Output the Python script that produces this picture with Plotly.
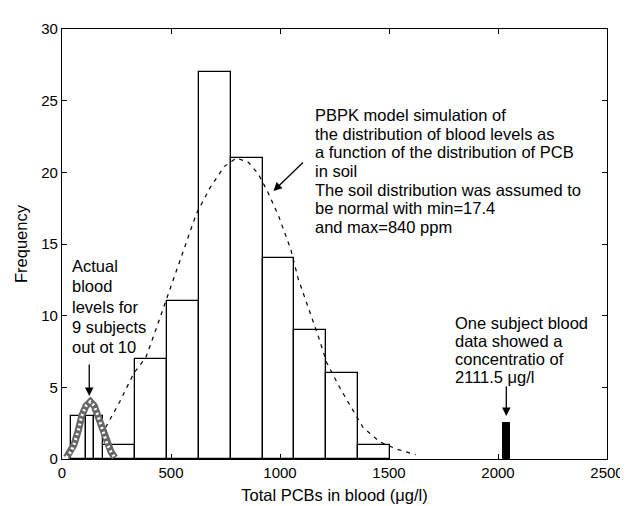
import plotly.graph_objects as go

# ---- data ----
# simulated (PBPK) histogram: bin edges and counts
sim_edges = [190, 336, 482, 628, 774, 920, 1066, 1212, 1358, 1504]
sim_counts = [1, 7, 11, 27, 21, 14, 9, 6, 1]

# actual blood data histogram (9 of 10 subjects)
act_edges = [41, 111, 146, 190]
act_counts = [3, 3, 3]

# outlier subject
out_x = [2038]
out_h = [2.5]
out_w = 30

# dashed PBPK curve
curve_x = [200, 265, 330, 385, 430, 476, 528, 560, 616, 678, 744, 800, 855, 900,
           945, 995, 1050, 1083, 1141, 1177, 1215, 1277, 1323, 1381, 1457, 1533, 1622]
curve_y = [2.2, 4.0, 6.0, 7.1, 9.0, 11.0, 13.3, 14.6, 17.1, 18.9, 20.4, 21.0, 20.7, 19.9,
           18.6, 16.9, 14.6, 12.6, 10.1, 8.5, 6.7, 4.9, 3.7, 2.2, 1.2, 0.7, 0.3]

# speckled fit to the actual data
spk_x = [20, 40, 55, 75, 90, 110, 130, 148, 165, 185, 208, 225, 242]
spk_y = [0.1, 0.5, 1.0, 2.0, 3.0, 3.7, 4.0, 3.7, 3.0, 2.0, 1.0, 0.5, 0.1]

x_ticks = [0, 500, 1000, 1500, 2000, 2500]
y_ticks = [0, 5, 10, 15, 20, 25, 30]

# annotation texts (one entry per line)
pbpk_lines = ["PBPK model simulation of", "the distribution of blood levels as",
              "a function of the distribution of PCB", "in soil",
              "The soil distribution was assumed to", "be normal with min=17.4",
              "and max=840 ppm"]
pbpk_y = [24.0, 22.7, 21.4, 20.1, 18.8, 17.5, 16.2]
actual_lines = ["Actual", "blood", "levels for", "9 subjects", "out ot 10"]
actual_y = [13.45, 12.05, 10.6, 9.2, 7.8]
subject_lines = ["One subject blood", "data showed a", "concentratio of", "2111.5 μg/l"]
subject_y = [9.5, 8.25, 7.0, 5.75]


def centers_widths(edges):
    c = [(a + b) / 2 for a, b in zip(edges[:-1], edges[1:])]
    w = [b - a for a, b in zip(edges[:-1], edges[1:])]
    return c, w


FONT = "Liberation Sans, Arial, sans-serif"
fig = go.Figure()

sc, sw = centers_widths(sim_edges)
fig.add_trace(go.Bar(x=sc, y=sim_counts, width=sw, marker=dict(color="white",
              line=dict(color="black", width=1.3)), showlegend=False))

ac, aw = centers_widths(act_edges)
fig.add_trace(go.Bar(x=ac, y=act_counts, width=aw, marker=dict(color="white",
              line=dict(color="black", width=1.3)), showlegend=False))

fig.add_trace(go.Bar(x=out_x, y=out_h, width=out_w, marker=dict(color="black",
              line=dict(color="black", width=1)), showlegend=False))

fig.add_trace(go.Scatter(x=curve_x, y=curve_y, mode="lines",
              line=dict(color="black", width=1.2, dash="4px,5px"), showlegend=False))

fig.add_trace(go.Scatter(x=spk_x, y=spk_y, mode="lines",
              line=dict(color="#666", width=7), showlegend=False))
fig.add_trace(go.Scatter(x=spk_x, y=spk_y, mode="lines",
              line=dict(color="white", width=3, dash="2px,3px"), showlegend=False))

txt = dict(family=FONT, size=16.5, color="black")


def add_lines(lines, ys, x0):
    for s, yv in zip(lines, ys):
        fig.add_annotation(x=x0, y=yv, xref="x", yref="y", xanchor="left",
                           yanchor="middle", align="left", showarrow=False,
                           font=txt, text=s, borderpad=0)


add_lines(pbpk_lines, pbpk_y, 1156)
add_lines(actual_lines, actual_y, 40)
add_lines(subject_lines, subject_y, 1799)

arrow = dict(showarrow=True, arrowhead=2, arrowsize=1.3, arrowwidth=1.3,
             arrowcolor="black", text="", xref="x", yref="y")
fig.add_annotation(x=970, y=18.7, ax=31, ay=-30, **arrow)
fig.add_annotation(x=125, y=4.4, ax=0, ay=-33, **arrow)
fig.add_annotation(x=2038, y=3.0, ax=0, ay=-31, **arrow)

axis_common = dict(showline=True, linecolor="black", linewidth=1.3, mirror="ticks",
                   ticks="inside", ticklen=5, tickcolor="black", showgrid=False,
                   zeroline=False, ticklabeloverflow="allow",
                   tickfont=dict(family=FONT, size=15, color="black"))

fig.update_layout(
    width=628, height=506, plot_bgcolor="white", paper_bgcolor="white",
    margin=dict(l=54, r=14, t=14, b=51), bargap=0, barmode="overlay",
    xaxis=dict(range=[0, 2500], tickvals=x_ticks, title=dict(
        text="Total PCBs in blood (μg/l)", font=dict(family=FONT, size=16.5, color="black"),
        standoff=9), **axis_common),
    yaxis=dict(range=[0, 30], tickvals=y_ticks, title=dict(
        text="Frequency", font=dict(family=FONT, size=16.5, color="black"), standoff=9),
        **axis_common),
)

fig.write_html("out.html")
